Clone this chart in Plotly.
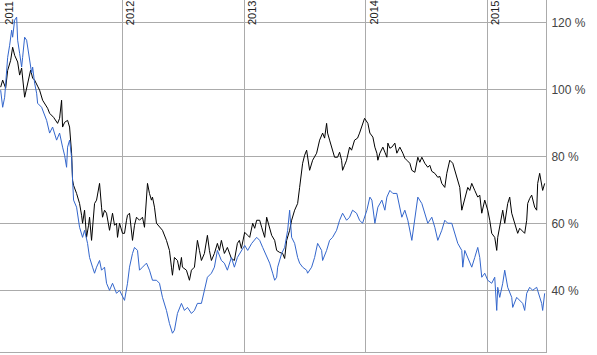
import pandas as pd
import plotly.graph_objects as go

# Dates given as year + day-of-year, values in percent
black_dates = [
    "2011-001", "2011-007", "2011-016", "2011-022", "2011-031", "2011-037", "2011-043", "2011-052",
    "2011-058", "2011-064", "2011-073", "2011-082", "2011-091", "2011-097", "2011-103", "2011-112",
    "2011-118", "2011-127", "2011-133", "2011-142", "2011-148", "2011-160", "2011-172", "2011-178",
    "2011-184", "2011-187", "2011-193", "2011-202", "2011-208", "2011-214", "2011-217", "2011-220",
    "2011-229", "2011-238", "2011-244", "2011-247", "2011-253", "2011-259", "2011-265", "2011-268",
    "2011-274", "2011-283", "2011-289", "2011-298", "2011-304", "2011-307", "2011-313", "2011-319",
    "2011-328", "2011-337", "2011-343", "2011-349", "2011-352", "2011-358",
    "2012-002", "2012-008", "2012-014", "2012-017", "2012-023", "2012-032", "2012-038", "2012-044",
    "2012-053", "2012-062", "2012-068", "2012-074", "2012-077", "2012-083", "2012-089", "2012-092",
    "2012-098", "2012-104", "2012-113", "2012-122", "2012-134", "2012-143", "2012-149", "2012-152",
    "2012-158", "2012-167", "2012-173", "2012-179", "2012-182", "2012-194", "2012-203", "2012-209",
    "2012-218", "2012-227", "2012-233", "2012-239", "2012-248", "2012-257", "2012-263", "2012-269",
    "2012-278", "2012-287", "2012-293", "2012-299", "2012-308", "2012-317", "2012-329", "2012-338",
    "2012-347", "2012-353", "2012-359",
    "2013-003", "2013-012", "2013-018", "2013-027", "2013-033", "2013-039", "2013-048", "2013-054",
    "2013-063", "2013-069", "2013-078", "2013-084", "2013-093", "2013-099", "2013-108", "2013-117",
    "2013-123", "2013-129", "2013-138", "2013-144", "2013-153", "2013-162", "2013-168", "2013-174",
    "2013-177", "2013-183", "2013-189", "2013-198", "2013-207", "2013-219", "2013-228", "2013-237",
    "2013-243", "2013-249", "2013-252", "2013-258", "2013-264", "2013-273", "2013-282", "2013-288",
    "2013-294", "2013-297", "2013-303", "2013-309", "2013-318", "2013-324", "2013-333", "2013-342",
    "2013-348", "2013-357", "2013-363",
    "2014-008", "2014-014", "2014-023", "2014-029", "2014-035", "2014-038", "2014-044", "2014-053",
    "2014-059", "2014-065", "2014-068", "2014-074", "2014-080", "2014-089", "2014-095", "2014-104",
    "2014-113", "2014-119", "2014-125", "2014-134", "2014-140", "2014-149", "2014-158", "2014-164",
    "2014-170", "2014-179", "2014-188", "2014-194", "2014-200", "2014-209", "2014-218", "2014-224",
    "2014-230", "2014-239", "2014-245", "2014-254", "2014-263", "2014-269", "2014-275", "2014-284",
    "2014-290", "2014-299", "2014-308", "2014-314", "2014-320", "2014-329", "2014-338", "2014-344",
    "2014-350", "2014-359",
    "2015-003", "2015-009", "2015-015", "2015-024", "2015-030", "2015-033", "2015-039", "2015-048",
    "2015-054", "2015-063", "2015-069", "2015-075", "2015-084", "2015-093", "2015-099", "2015-105",
    "2015-114", "2015-120", "2015-123", "2015-129", "2015-135", "2015-144", "2015-150", "2015-153",
    "2015-159", "2015-168", "2015-174",
]
black_values = [
    100.7, 102.8, 100.4, 105.7, 108.7, 112.6, 110.2, 108.2,
    104.3, 106.4, 97.7, 102.2, 105.8, 103.4, 102.8, 101.0,
    99.8, 96.8, 95.9, 94.4, 92.9, 91.7, 89.9, 91.4,
    96.8, 88.8, 90.2, 90.8, 88.8, 81.0, 72.9, 71.4,
    69.0, 66.0, 62.5, 60.1, 64.0, 55.9, 59.5, 61.9,
    55.0, 66.0, 67.0, 72.0, 64.9, 61.9, 64.0, 63.1,
    58.0, 63.1, 59.5, 60.1, 55.9, 60.1,
    57.1, 57.1, 61.0, 62.5, 63.1, 55.0, 59.5, 61.9,
    61.0, 61.9, 58.9, 66.0, 72.0, 69.0, 67.0, 67.9,
    64.9, 60.1, 58.9, 58.0, 55.0, 52.0, 47.0, 44.6,
    49.9, 49.0, 46.1, 49.9, 47.0, 46.1, 43.1, 46.1,
    47.0, 55.0, 52.0, 49.0, 51.1, 56.5, 52.0, 49.0,
    51.1, 54.1, 52.0, 55.0, 51.1, 52.9, 49.6, 49.0,
    54.1, 55.0, 52.6,
    57.4, 56.5, 55.9, 60.1, 58.6, 61.0, 61.0, 58.9,
    55.9, 61.9, 58.9, 56.5, 55.0, 52.0, 51.4, 51.1,
    49.6, 55.0, 58.0, 61.0, 64.0, 66.0, 70.8, 75.9,
    78.0, 80.4, 81.9, 75.9, 78.9, 81.0, 84.9, 87.0,
    85.5, 89.9, 87.0, 84.9, 82.8, 79.8, 79.8, 81.3,
    78.9, 75.9, 77.4, 78.9, 82.8, 81.9, 84.9, 85.5,
    87.0, 89.9, 91.4,
    89.9, 87.0, 85.8, 82.8, 81.0, 78.9, 81.0, 82.8,
    81.3, 79.8, 84.0, 82.5, 82.8, 84.0, 81.0, 82.8,
    81.0, 79.5, 78.9, 78.0, 75.9, 75.3, 79.8, 78.3,
    79.8, 78.0, 76.8, 77.4, 75.6, 75.0, 73.8, 74.1,
    72.0, 70.8, 75.0, 78.9, 78.0, 75.9, 73.8, 70.8,
    64.0, 67.9, 70.8, 69.9, 72.0, 69.9, 67.9, 68.5,
    63.1, 67.0,
    64.0, 61.0, 57.1, 55.9, 52.0, 55.9, 58.9, 64.0,
    60.1, 66.0, 67.9, 63.1, 60.1, 57.1, 58.6, 58.0,
    57.1, 61.0, 66.0, 67.5, 68.5, 64.9, 64.0, 72.0,
    75.0, 69.9, 72.0,
]

blue_dates = [
    "2011-001", "2011-007", "2011-013", "2011-019", "2011-022", "2011-028", "2011-034", "2011-037",
    "2011-043", "2011-049", "2011-052", "2011-058", "2011-064", "2011-067", "2011-073", "2011-079",
    "2011-082", "2011-088", "2011-094", "2011-097", "2011-103", "2011-109", "2011-112", "2011-124",
    "2011-127", "2011-139", "2011-148", "2011-157", "2011-169", "2011-178", "2011-187", "2011-193",
    "2011-199", "2011-202", "2011-208", "2011-214", "2011-217", "2011-220", "2011-229", "2011-238",
    "2011-247", "2011-253", "2011-262", "2011-268", "2011-277", "2011-283", "2011-289", "2011-298",
    "2011-304", "2011-313", "2011-319", "2011-328", "2011-337", "2011-349", "2011-358",
    "2012-002", "2012-008", "2012-017", "2012-023", "2012-032", "2012-038", "2012-047", "2012-053",
    "2012-062", "2012-074", "2012-083", "2012-092", "2012-104", "2012-113", "2012-122", "2012-134",
    "2012-143", "2012-152", "2012-158", "2012-167", "2012-179", "2012-188", "2012-197", "2012-209",
    "2012-218", "2012-227", "2012-239", "2012-248", "2012-257", "2012-269", "2012-278", "2012-287",
    "2012-299", "2012-308", "2012-317", "2012-329", "2012-338", "2012-347", "2012-359",
    "2013-003", "2013-012", "2013-024", "2013-039", "2013-048", "2013-057", "2013-069", "2013-078",
    "2013-087", "2013-093", "2013-099", "2013-102", "2013-114", "2013-123", "2013-132", "2013-138",
    "2013-144", "2013-153", "2013-162", "2013-168", "2013-177", "2013-189", "2013-192", "2013-204",
    "2013-213", "2013-222", "2013-234", "2013-237", "2013-249", "2013-258", "2013-267", "2013-279",
    "2013-288", "2013-297", "2013-309", "2013-318", "2013-327", "2013-339", "2013-348", "2013-357",
    "2014-005", "2014-014", "2014-020", "2014-029", "2014-038", "2014-050", "2014-059", "2014-065",
    "2014-074", "2014-083", "2014-095", "2014-104", "2014-110", "2014-119", "2014-128", "2014-140",
    "2014-149", "2014-158", "2014-170", "2014-179", "2014-188", "2014-200", "2014-209", "2014-218",
    "2014-230", "2014-239", "2014-248", "2014-260", "2014-269", "2014-278", "2014-290", "2014-293",
    "2014-299", "2014-308", "2014-320", "2014-329", "2014-338", "2014-344", "2014-350", "2014-359",
    "2015-003", "2015-015", "2015-024", "2015-030", "2015-033", "2015-039", "2015-048", "2015-054",
    "2015-063", "2015-075", "2015-078", "2015-090", "2015-099", "2015-108", "2015-114", "2015-120",
    "2015-129", "2015-138", "2015-150", "2015-159", "2015-165", "2015-168", "2015-174",
]
blue_values = [
    99.8, 94.7, 97.7, 106.7, 109.6, 113.2, 117.7, 115.6,
    120.7, 121.6, 114.7, 110.8, 106.7, 109.6, 115.6, 114.7,
    112.6, 107.9, 104.9, 106.7, 101.9, 98.9, 95.9, 94.7,
    93.8, 90.8, 87.0, 88.8, 84.9, 87.0, 82.8, 80.4,
    76.8, 82.8, 84.9, 79.8, 72.9, 67.0, 64.9, 58.9,
    55.9, 58.0, 54.1, 49.9, 47.0, 45.2, 47.0, 49.0,
    46.1, 47.0, 42.2, 40.1, 42.2, 39.2, 40.1,
    38.0, 37.1, 42.2, 47.0, 51.1, 52.9, 52.0, 46.1,
    47.0, 48.2, 46.1, 43.1, 43.1, 42.2, 38.0, 34.1,
    30.2, 27.3, 28.2, 33.2, 36.2, 34.1, 35.0, 33.2,
    34.1, 36.2, 36.2, 40.1, 44.0, 45.2, 47.0, 52.0,
    49.0, 48.2, 46.1, 49.9, 47.0, 49.9, 52.0,
    53.5, 52.0, 54.1, 55.9, 55.0, 52.9, 49.9, 48.2,
    45.2, 43.1, 44.0, 47.0, 51.1, 52.9, 58.0, 64.0,
    55.9, 54.1, 49.9, 48.2, 47.0, 46.1, 45.2, 47.0,
    49.9, 54.1, 52.0, 49.0, 52.0, 55.0, 55.9, 58.0,
    61.0, 63.1, 61.0, 61.9, 64.0, 63.1, 61.0, 60.1,
    64.0, 67.9, 67.0, 60.1, 64.9, 67.0, 64.0, 67.9,
    69.9, 69.0, 69.0, 64.9, 61.9, 64.0, 61.0, 55.0,
    61.9, 67.9, 66.0, 63.1, 60.1, 61.9, 58.9, 55.0,
    58.0, 61.0, 60.1, 60.1, 57.1, 54.1, 52.0, 47.0,
    52.0, 49.9, 47.0, 49.9, 52.9, 49.9, 44.0, 45.2,
    43.1, 42.2, 44.0, 34.1, 41.0, 38.0, 42.2, 46.1,
    41.0, 38.0, 35.0, 38.0, 37.1, 36.2, 34.1, 39.2,
    41.0, 40.1, 41.0, 38.0, 36.2, 34.1, 39.2,
]

year_ticks = ["2011-01-01", "2012-01-01", "2013-01-01", "2014-01-01", "2015-01-01"]
year_labels = ["2011", "2012", "2013", "2014", "2015"]
pct_ticks = [40, 60, 80, 100, 120]
pct_labels = ["40 %", "60 %", "80 %", "100 %", "120 %"]

bd = pd.to_datetime(black_dates, format="%Y-%j")
ud = pd.to_datetime(blue_dates, format="%Y-%j")

grid = "#ababab"
font = "Liberation Sans, Arial, sans-serif"

fig = go.Figure()
fig.add_trace(go.Scatter(x=bd, y=black_values, mode="lines",
                         line=dict(color="#000000", width=1), showlegend=False))
fig.add_trace(go.Scatter(x=ud, y=blue_values, mode="lines",
                         line=dict(color="#3366cc", width=1), showlegend=False))

for d, lab in zip(year_ticks, year_labels):
    fig.add_annotation(x=d, y=1, xref="x", yref="paper", text=lab, textangle=-90,
                       showarrow=False, xanchor="left", yanchor="top",
                       xshift=1, yshift=0, borderpad=0,
                       font=dict(family=font, size=11, color="#222222"))

fig.update_layout(
    width=597, height=355,
    margin=dict(l=0, r=51, t=0, b=3),
    paper_bgcolor="white", plot_bgcolor="white",
    font=dict(family=font),
)
fig.update_xaxes(
    type="date", range=["2010-12-30", "2015-06-27"],
    tickvals=year_ticks, showticklabels=False,
    showgrid=True, gridcolor=grid, gridwidth=1,
    showline=True, linecolor=grid, linewidth=1,
    zeroline=False, ticks="",
)
fig.update_yaxes(
    side="right", range=[21.7, 126.7],
    tickvals=pct_ticks, ticktext=pct_labels,
    tickfont=dict(family=font, size=12, color="#444444"),
    showgrid=True, gridcolor=grid, gridwidth=1,
    showline=True, linecolor=grid, linewidth=1,
    zeroline=False, ticks="", ticklabelstandoff=2,
)

fig.write_html("out.html")
